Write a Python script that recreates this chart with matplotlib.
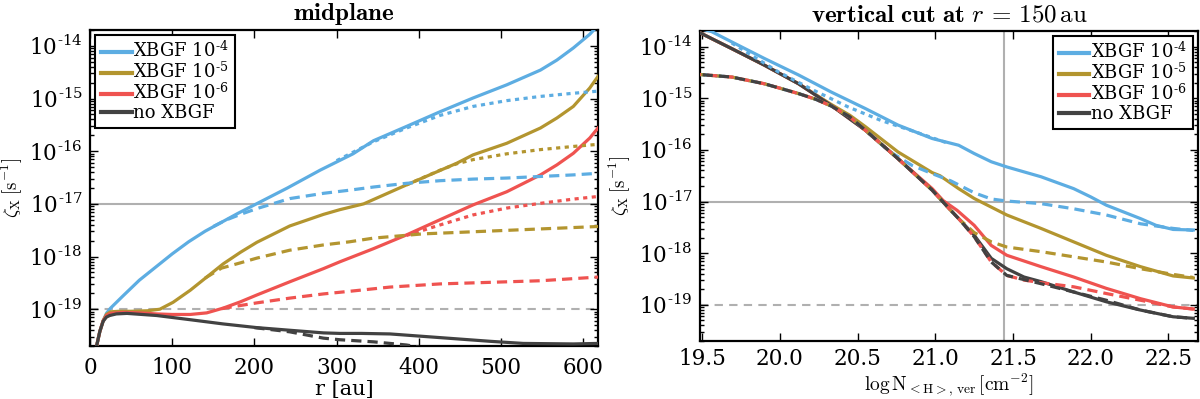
import numpy as np
import matplotlib
matplotlib.use("Agg")
from matplotlib import pyplot as plt
from matplotlib.ticker import (LogLocator, FixedLocator, FuncFormatter, MultipleLocator,
                               NullFormatter)

plt.rcParams['font.family'] = ['DejaVu Serif']
plt.rcParams['mathtext.fontset'] = 'cm'

BLUE = '#5dade2'
GOLD = '#b3952f'
RED = '#ef5350'
DARK = '#424242'
GREY = '#b0b0b0'

HY = '\u2010'   # short hyphen used in the exponents
LABELS = [r'XBGF 10$^{\mathregular{%s4}}$' % HY, r'XBGF 10$^{\mathregular{%s5}}$' % HY,
          r'XBGF 10$^{\mathregular{%s6}}$' % HY, 'no XBGF']
Y_TICKS = [1e-19, 1e-18, 1e-17, 1e-16, 1e-15, 1e-14]

# ---------------- midplane (r in au, log10 zeta) ----------------
r_blue = [8, 12, 16, 20, 25, 40, 60, 80, 100, 120, 140, 160, 180, 200, 240, 280, 320,
          345, 385, 426, 466, 507, 548, 568, 588, 608, 614]
z_blue = [-19.70, -19.42, -19.22, -19.08, -18.98, -18.75, -18.45, -18.20, -17.95, -17.72,
          -17.52, -17.35, -17.18, -17.02, -16.70, -16.36, -16.05, -15.80, -15.53, -15.25,
          -14.99, -14.74, -14.46, -14.27, -14.04, -13.78, -13.68]
r_blue_dot = [300, 345, 385, 426, 466, 507, 548, 588, 618]
z_blue_dot = [-16.18, -15.82, -15.56, -15.32, -15.15, -15.04, -14.96, -14.90, -14.86]
r_blue_dash = [150, 165, 183, 203, 243, 284, 316, 345, 385, 426, 466, 507, 548, 588, 618]
z_blue_dash = [-17.43, -17.31, -17.20, -17.09, -16.90, -16.80, -16.74, -16.68, -16.61,
               -16.56, -16.53, -16.51, -16.48, -16.45, -16.42]

r_gold = [8, 12, 16, 20, 25, 35, 50, 70, 85, 101, 122, 142, 162, 183, 203, 243, 284, 304,
          333, 385, 446, 466, 507, 548, 568, 588, 608, 618]
z_gold = [-19.70, -19.42, -19.22, -19.10, -19.05, -19.04, -19.04, -19.03, -19.00, -18.87,
          -18.64, -18.39, -18.14, -17.92, -17.73, -17.42, -17.20, -17.11, -17.00, -16.64,
          -16.23, -16.07, -15.85, -15.56, -15.37, -15.15, -14.80, -14.58]
r_gold_dot = [385, 426, 446, 466, 507, 548, 588, 618]
z_gold_dot = [-16.64, -16.36, -16.24, -16.16, -16.05, -15.97, -15.91, -15.87]
r_gold_dash = [140, 160, 183, 203, 243, 284, 316, 345, 405, 466, 527, 618]
z_gold_dash = [-18.41, -18.22, -18.12, -18.03, -17.88, -17.78, -17.72, -17.65, -17.57,
               -17.53, -17.49, -17.43]

r_red = [8, 12, 16, 20, 25, 40, 60, 81, 100, 122, 142, 162, 183, 203, 243, 284, 304,
         345, 385, 426, 466, 507, 548, 568, 588, 608, 618]
z_red = [-19.70, -19.42, -19.22, -19.12, -19.08, -19.06, -19.07, -19.09, -19.10, -19.10,
         -19.07, -18.98, -18.86, -18.73, -18.48, -18.23, -18.10, -17.85, -17.59, -17.30,
         -17.02, -16.77, -16.45, -16.26, -16.04, -15.75, -15.56]
r_red_dot = [385, 426, 466, 507, 548, 588, 618]
z_red_dot = [-17.60, -17.40, -17.21, -17.08, -16.99, -16.91, -16.86]
r_red_dash = [160, 183, 203, 243, 284, 316, 365, 426, 487, 548, 608, 618]
z_red_dash = [-18.99, -18.93, -18.88, -18.79, -18.71, -18.66, -18.58, -18.52, -18.49,
              -18.46, -18.40, -18.39]

r_dark = [8, 12, 16, 20, 24, 32, 45, 81, 122, 162, 203, 243, 284, 304, 330, 365, 426, 487,
          527, 588, 618]
z_dark = [-19.70, -19.42, -19.23, -19.15, -19.12, -19.09, -19.08, -19.12, -19.20, -19.28,
          -19.35, -19.40, -19.45, -19.46, -19.46, -19.47, -19.54, -19.61, -19.65, -19.66,
          -19.65]
r_dark_dash = [200, 243, 284, 304, 345, 385, 400]
z_dark_dash = [-19.35, -19.43, -19.55, -19.58, -19.62, -19.68, -19.72]

# ---------------- vertical cut (log N, log10 zeta) ----------------
n_blue = [19.45, 19.56, 19.69, 19.90, 20.12, 20.33, 20.55, 20.76, 20.98, 21.15, 21.25,
          21.36, 21.46, 21.68, 21.89, 22.00, 22.10, 22.32, 22.42, 22.53, 22.66]
v_blue = [-13.62, -13.71, -13.91, -14.23, -14.55, -14.88, -15.20, -15.52, -15.78, -15.91,
          -16.07, -16.23, -16.33, -16.52, -16.75, -16.91, -17.07, -17.33, -17.46, -17.54,
          -17.55]
n_blue_dot = [19.69, 19.99, 20.22, 20.44, 20.65, 20.87, 21.09]
v_blue_dot = [-13.93, -14.49, -14.85, -15.17, -15.43, -15.65, -15.88]
n_blue_dash = [19.48, 19.69, 19.90, 20.12, 20.23, 20.33, 20.45, 20.55, 20.70, 20.85, 20.98,
               21.10, 21.25, 21.36, 21.46, 21.68, 21.89, 22.10, 22.32, 22.53, 22.66]
v_blue_dash = [-14.54, -14.59, -14.72, -14.91, -15.02, -15.15, -15.36, -15.62, -16.02,
               -16.30, -16.46, -16.60, -16.83, -16.95, -16.99, -17.04, -17.14, -17.26,
               -17.43, -17.52, -17.56]

n_gold = [19.45, 19.69, 19.90, 20.12, 20.33, 20.45, 20.55, 20.76, 20.98, 21.03, 21.15,
          21.25, 21.46, 21.68, 21.89, 22.10, 22.32, 22.53, 22.66]
v_gold = [-13.68, -14.04, -14.36, -14.72, -15.12, -15.33, -15.55, -16.04, -16.44, -16.50,
          -16.75, -16.94, -17.26, -17.52, -17.78, -18.04, -18.26, -18.44, -18.48]
n_gold_dash = [19.48, 19.69, 19.90, 20.12, 20.23, 20.33, 20.45, 20.55, 20.76, 20.98, 21.09,
               21.15, 21.25, 21.36, 21.46, 21.68, 21.89, 22.10, 22.32, 22.53, 22.66]
v_gold_dash = [-14.54, -14.59, -14.72, -14.91, -15.02, -15.15, -15.36, -15.62, -16.17,
               -16.78, -17.14, -17.33, -17.60, -17.78, -17.88, -17.97, -18.07, -18.17,
               -18.30, -18.41, -18.47]

n_red = [19.45, 19.69, 19.90, 20.12, 20.33, 20.55, 20.76, 20.98, 21.05, 21.14, 21.25, 21.36,
         21.46, 21.68, 21.89, 22.10, 22.32, 22.53, 22.66]
v_red = [-13.68, -14.04, -14.36, -14.72, -15.14, -15.62, -16.17, -16.75, -16.98, -17.17,
         -17.46, -17.85, -18.04, -18.26, -18.46, -18.68, -18.88, -19.04, -19.08]
n_red_dash = [19.48, 19.69, 19.90, 20.12, 20.23, 20.33, 20.45, 20.55, 20.76, 20.98, 21.09,
              21.15, 21.25, 21.36, 21.46, 21.57, 21.68, 21.89, 22.10, 22.32, 22.53, 22.66]
v_red_dash = [-14.54, -14.59, -14.72, -14.91, -15.02, -15.15, -15.36, -15.62, -16.17,
              -16.78, -17.14, -17.33, -17.68, -18.17, -18.43, -18.52, -18.57, -18.65,
              -18.78, -18.91, -19.04, -19.08]

n_dark = [19.45, 19.69, 19.90, 20.12, 20.33, 20.55, 20.76, 20.98, 21.09, 21.15, 21.25,
          21.36, 21.46, 21.57, 21.68, 21.89, 22.10, 22.32, 22.53, 22.66]
v_dark = [-13.68, -14.04, -14.36, -14.72, -15.14, -15.62, -16.17, -16.78, -17.14, -17.33,
          -17.65, -18.10, -18.30, -18.46, -18.55, -18.75, -18.94, -19.10, -19.23, -19.26]
n_dark_dash = [19.48, 19.69, 19.90, 20.12, 20.23, 20.33, 20.45, 20.55, 20.76, 20.98, 21.09,
               21.15, 21.25, 21.36, 21.46, 21.68, 21.89, 22.10, 22.32, 22.53, 22.66]
v_dark_dash = [-14.54, -14.59, -14.72, -14.91, -15.02, -15.15, -15.36, -15.62, -16.17,
               -16.78, -17.14, -17.33, -17.68, -18.17, -18.43, -18.59, -18.75, -18.91,
               -19.10, -19.23, -19.26]

N_CUT = 21.44

LW = 2.3
DOT = (0, (1.3, 1.4))
DASH = (0, (3.2, 1.9))


def exp10(z):
    return 10.0 ** np.asarray(z)


def fmt_pow(val, pos):
    e = int(round(np.log10(val)))
    return r'10$^{\mathregular{%s%d}}$' % (HY, abs(e))


def style_axis(ax, label_x, xpad):
    ax.set_yscale('log')
    ax.set_ylim(2e-20, 2e-14)
    ax.yaxis.set_major_locator(FixedLocator(Y_TICKS))
    ax.yaxis.set_minor_locator(LogLocator(base=10, subs=np.arange(2, 10), numticks=20))
    ax.yaxis.set_major_formatter(FuncFormatter(fmt_pow))
    ax.yaxis.set_minor_formatter(NullFormatter())
    ax.tick_params(which='both', direction='in', top=True, right=True, width=1.0,
                   labelsize=15.5)
    ax.tick_params(which='major', length=6)
    ax.tick_params(which='minor', length=3)
    ax.tick_params(axis='y', pad=5)
    ax.tick_params(axis='x', pad=xpad)
    for s in ax.spines.values():
        s.set_linewidth(1.6)
    ax.axhline(1e-17, color=GREY, lw=1.5, zorder=1)
    ax.axhline(1e-19, color=GREY, lw=1.5, ls=(0, (4, 3)), zorder=1)
    ax.set_ylabel(r'$\zeta_{\rm X}\;[\rm s^{-1}]$', fontsize=13.5)
    ax.yaxis.set_label_coords(label_x, 0.5)


def add_legend(ax, loc):
    leg = ax.legend(loc=loc, fontsize=13, handlelength=1.7, handletextpad=0.1,
                    labelspacing=0.0, borderpad=0.3, borderaxespad=0.3, fancybox=False,
                    framealpha=1, edgecolor='black')
    leg.get_frame().set_linewidth(1.5)
    for line in leg.get_lines():
        line.set_linewidth(3)
    return leg


fig = plt.figure(figsize=(12, 3.99), dpi=100)
ax1 = fig.add_axes([90 / 1200, 53 / 399, 508 / 1200, 316 / 399])
ax2 = fig.add_axes([700 / 1200, 58 / 399, 498 / 1200, 310 / 399])

# midplane
style_axis(ax1, -0.13, 8)
ax1.plot(r_blue, exp10(z_blue), color=BLUE, lw=LW, label=LABELS[0], zorder=3)
ax1.plot(r_gold, exp10(z_gold), color=GOLD, lw=LW, label=LABELS[1], zorder=3)
ax1.plot(r_red, exp10(z_red), color=RED, lw=LW, label=LABELS[2], zorder=3)
ax1.plot(r_dark, exp10(z_dark), color=DARK, lw=LW, label=LABELS[3], zorder=3)
ax1.plot(r_blue_dot, exp10(z_blue_dot), color=BLUE, lw=LW, ls=DOT, zorder=3)
ax1.plot(r_gold_dot, exp10(z_gold_dot), color=GOLD, lw=LW, ls=DOT, zorder=3)
ax1.plot(r_red_dot, exp10(z_red_dot), color=RED, lw=LW, ls=DOT, zorder=3)
ax1.plot(r_blue_dash, exp10(z_blue_dash), color=BLUE, lw=LW, ls=DASH, zorder=3)
ax1.plot(r_gold_dash, exp10(z_gold_dash), color=GOLD, lw=LW, ls=DASH, zorder=3)
ax1.plot(r_red_dash, exp10(z_red_dash), color=RED, lw=LW, ls=DASH, zorder=3)
ax1.plot(r_dark_dash, exp10(z_dark_dash), color=DARK, lw=LW, ls=DASH, zorder=3)
ax1.set_xlim(0, 618)
ax1.xaxis.set_major_locator(MultipleLocator(100))
ax1.set_xlabel('r [au]', fontsize=15)
ax1.xaxis.set_label_coords(0.5, -0.108)
ax1.set_title(r'$\mathbf{midplane}$', fontsize=18, pad=7)
add_legend(ax1, 'upper left')

# vertical cut
style_axis(ax2, -0.137, 5)
ax2.axvline(N_CUT, color=GREY, lw=1.5, zorder=1)
ax2.plot(n_blue, exp10(v_blue), color=BLUE, lw=LW, label=LABELS[0], zorder=3)
ax2.plot(n_gold, exp10(v_gold), color=GOLD, lw=LW, label=LABELS[1], zorder=3)
ax2.plot(n_red, exp10(v_red), color=RED, lw=LW, label=LABELS[2], zorder=3)
ax2.plot(n_dark, exp10(v_dark), color=DARK, lw=LW, label=LABELS[3], zorder=3)
ax2.plot(n_blue_dot, exp10(v_blue_dot), color=BLUE, lw=LW, ls=DOT, zorder=3)
ax2.plot(n_blue_dash, exp10(v_blue_dash), color=BLUE, lw=LW, ls=(0, (3.2, 1.9)), zorder=3)
ax2.plot(n_gold_dash, exp10(v_gold_dash), color=GOLD, lw=LW, ls=(1.3, (3.2, 1.9)), zorder=3)
ax2.plot(n_red_dash, exp10(v_red_dash), color=RED, lw=LW, ls=(2.6, (3.2, 1.9)), zorder=3)
ax2.plot(n_dark_dash, exp10(v_dark_dash), color=DARK, lw=LW, ls=(4.0, (3.2, 1.9)), zorder=3)
ax2.set_xlim(19.486, 22.69)
ax2.xaxis.set_major_locator(MultipleLocator(0.5))
ax2.xaxis.set_major_formatter(FuncFormatter(lambda v, p: '%.1f' % v))
ax2.set_xlabel(r'$\log{\rm N}_{\rm <H>,\,ver}\,[\rm cm^{-2}]$', fontsize=14)
ax2.xaxis.set_label_coords(0.5, -0.1)
ax2.set_title(r'$\mathbf{vertical\ cut\ at}\ r\,=\,150\,\mathrm{au}$', fontsize=18, pad=7)
add_legend(ax2, 'upper right')

fig.savefig('out.png', dpi=100)
